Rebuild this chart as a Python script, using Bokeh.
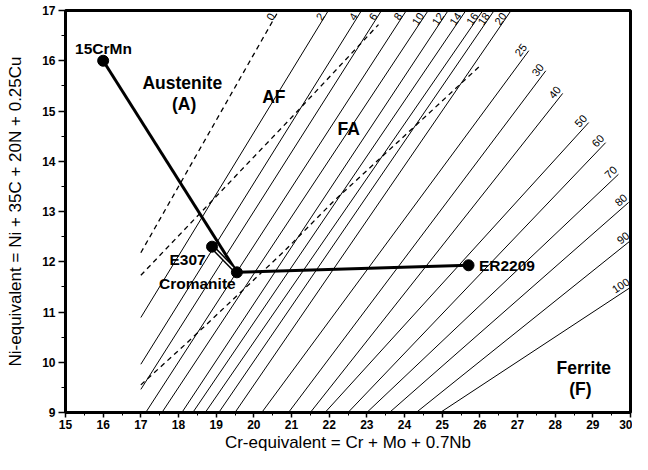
import math
import numpy as np
from bokeh.plotting import figure
from bokeh.models import Range1d, FixedTicker
from bokeh.embed import file_html
from bokeh.resources import INLINE
from bokeh.core.properties import value

# ---------------- data ----------------
x_ticks = list(range(15, 31))
y_ticks = list(range(9, 18))

# iso-ferrite lines (FN): start point and end point
fn_labels = ["2", "4", "6", "8", "10", "12", "14", "16", "18", "20",
             "25", "30", "40", "50", "60", "70", "80", "90", "100"]
fn_x0 = [17.0, 17.0, 17.0, 17.13, 17.56, 18.09, 18.38, 18.71, 19.07, 19.50,
         20.21, 20.92, 21.50, 21.89, 22.50, 23.00, 23.60, 24.31, 24.95]
fn_y0 = [10.89, 9.96, 9.46, 9.0, 9.0, 9.0, 9.0, 9.0, 9.0, 9.0,
         9.0, 9.0, 9.0, 9.0, 9.0, 9.0, 9.0, 9.0, 9.0]
fn_x1 = [21.98, 22.86, 23.39, 24.05, 24.63, 25.16, 25.63, 26.08, 26.38, 26.83,
         27.30, 27.75, 28.20, 28.89, 29.34, 29.68, 29.95, 30.0, 30.0]
fn_y1 = [17.0, 17.0, 17.0, 17.0, 17.0, 17.0, 17.0, 17.0, 17.0, 17.0,
         16.20, 15.80, 15.35, 14.77, 14.37, 13.74, 13.18, 12.42, 11.49]

# dashed lines
zero_label = "0"
zero_x = [17.0, 20.66]
zero_y = [12.18, 17.0]
bound_af_x = [17.0, 21.0, 23.31]
bound_af_y = [11.73, 14.87, 16.72]
bound_fa_x = [17.0, 18.23, 20.82, 22.14, 24.44, 26.05]
bound_fa_y = [9.55, 10.39, 12.22, 13.22, 14.81, 15.93]

# alloy points
pt_names = ["15CrMn", "E307", "Cromanite", "ER2209"]
pt_x = [16.0, 18.89, 19.55, 25.70]
pt_y = [16.0, 12.30, 11.79, 11.93]

# ---------------- figure ----------------
FW, FH = 565, 402
p = figure(width=632, height=454, x_range=Range1d(15, 30), y_range=Range1d(9, 17),
           output_backend="svg", toolbar_location=None,
           min_border_left=65, min_border_right=2, min_border_top=10, min_border_bottom=42)
p.grid.visible = False
p.outline_line_color = "black"
p.outline_line_width = 3
p.background_fill_color = "white"
p.border_fill_color = "white"

p.xaxis.ticker = FixedTicker(ticks=x_ticks, minor_ticks=list(np.arange(15, 30.01, 0.5)))
p.yaxis.ticker = FixedTicker(ticks=y_ticks, minor_ticks=list(np.arange(9, 17.01, 0.5)))
p.xaxis.axis_label = "Cr-equivalent = Cr + Mo + 0.7Nb"
p.yaxis.axis_label = "Ni-equivalent = Ni + 35C + 20N + 0.25Cu"
for ax in (p.xaxis, p.yaxis):
    ax.axis_line_width = 3
    ax.axis_line_color = "black"
    ax.major_tick_line_color = "black"
    ax.minor_tick_line_color = "black"
    ax.major_tick_line_width = 1.5
    ax.minor_tick_line_width = 1
    ax.major_tick_in = 0
    ax.minor_tick_in = 0
    ax.major_label_text_font = "Liberation Sans"
    ax.major_label_text_font_style = "bold"
    ax.major_label_text_font_size = "12px"
    ax.major_label_text_color = "black"
    ax.axis_label_text_font = "Liberation Sans"
    ax.axis_label_text_font_style = "normal"
    ax.axis_label_text_font_size = "17px"
    ax.axis_label_text_color = "black"
p.xaxis.major_tick_out = 5
p.xaxis.minor_tick_out = 3
p.xaxis.major_label_standoff = 2
p.xaxis.axis_label_standoff = 1
p.yaxis.major_tick_out = 7
p.yaxis.minor_tick_out = 4
p.yaxis.major_label_standoff = 3
p.yaxis.axis_label_standoff = 14

sx = FW / 15.0
sy = FH / 8.0

# iso-ferrite lines
p.multi_line([[a, b] for a, b in zip(fn_x0, fn_x1)], [[a, b] for a, b in zip(fn_y0, fn_y1)],
             line_color="black", line_width=1)
p.line(zero_x, zero_y, line_color="black", line_width=1.3, line_dash="5 4")
p.line(bound_af_x, bound_af_y, line_color="black", line_width=1.3, line_dash="5 4")
p.line(bound_fa_x, bound_fa_y, line_color="black", line_width=1.3, line_dash="5 4")

# labels along the lines (placed on the upper-left side, just at the line end)
lab_txt, lab_x, lab_y, lab_a = [], [], [], []
all_lab = [zero_label] + fn_labels
all_x0 = [zero_x[0]] + fn_x0
all_y0 = [zero_y[0]] + fn_y0
all_x1 = [zero_x[-1]] + fn_x1
all_y1 = [zero_y[-1]] + fn_y1
for t, x0, y0, x1, y1 in zip(all_lab, all_x0, all_y0, all_x1, all_y1):
    dx, dy = x1 - x0, y1 - y0
    ang = math.atan2(dy * sy, dx * sx)
    ux, uy = math.cos(ang), math.sin(ang)      # along line (screen, y up)
    nx, ny = -uy, ux                           # perpendicular, up-left
    if y1 >= 16.99:
        ty = 17.0 - 8.0 / sy
        tx = x0 + (ty - y0) / dy * dx
        ax_px, ay_px = 3.0 * ux, 3.0 * uy
    else:
        tx, ty = x1, y1
        ax_px, ay_px = 2.0 * ux + 3.0 * nx, 2.0 * uy + 3.0 * ny
    lab_txt.append(t)
    lab_x.append(tx + ax_px / sx)
    lab_y.append(ty + ay_px / sy)
    lab_a.append(ang)
p.text(lab_x, lab_y, text=lab_txt, angle=lab_a, text_align="right", text_baseline="bottom",
       text_font=value("Liberation Sans"), text_font_size="11px", text_color="black")

# alloy paths
p.line([pt_x[0], pt_x[2]], [pt_y[0], pt_y[2]], line_color="black", line_width=3)
p.line([pt_x[2], pt_x[3]], [pt_y[2], pt_y[3]], line_color="black", line_width=3)
p.line([pt_x[1], pt_x[2]], [pt_y[1], pt_y[2]], line_color="black", line_width=4.5)
p.line([pt_x[1], pt_x[2]], [pt_y[1], pt_y[2]], line_color="white", line_width=1.5)
p.scatter(pt_x, pt_y, size=11, marker="circle", fill_color="black", line_color="black")

# point labels
pl_x = [16.01, 18.24, 18.50, 26.72]
pl_y = [16.24, 12.05, 11.57, 11.92]
p.text(pl_x, pl_y, text=pt_names, text_align="center", text_baseline="middle",
       text_font=value("Liberation Sans"), text_font_style="bold", text_font_size="15.5px",
       text_color="black")

# region labels
reg_txt = ["Austenite", "(A)", "AF", "FA", "Ferrite", "(F)"]
reg_x = [18.10, 18.15, 20.53, 22.52, 28.76, 28.67]
reg_y = [15.55, 15.14, 15.27, 14.64, 9.88, 9.46]
p.text(reg_x, reg_y, text=reg_txt, text_align="center", text_baseline="middle",
       text_font=value("Liberation Sans"), text_font_style="bold", text_font_size="17.5px",
       text_color="black")

open("out.html", "w").write(file_html(p, INLINE))
